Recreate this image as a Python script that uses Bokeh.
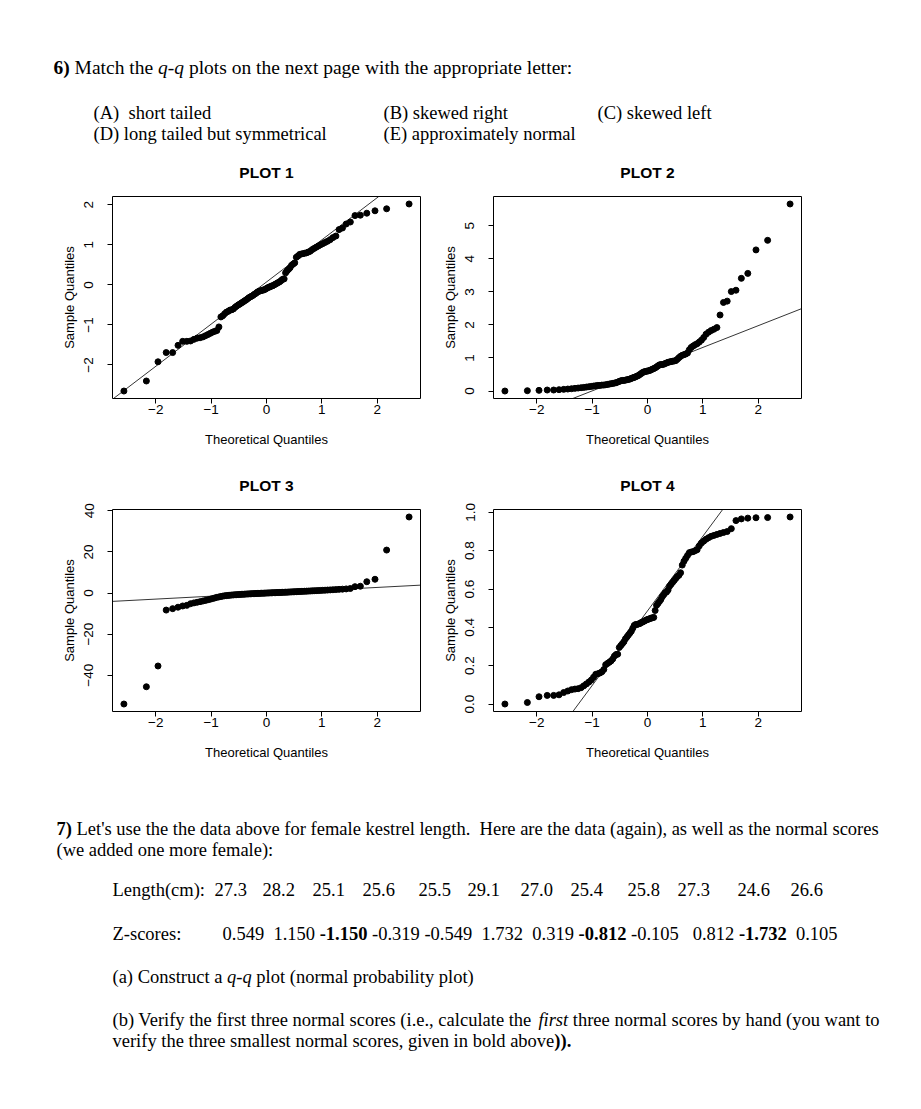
import re
from statistics import NormalDist
import numpy as np
from bokeh.plotting import figure
from bokeh.layouts import column, row
from bokeh.models import Range1d, DataRange1d, FixedTicker, Slope, PrintfTickFormatter
from bokeh.core.properties import value
from bokeh.embed import file_html
from bokeh.resources import INLINE

# ---------------- data ----------------
plot1 = [-2.65, -2.40, -1.92, -1.69, -1.69, -1.51, -1.41, -1.41, -1.40, -1.36,
         -1.33, -1.32, -1.30, -1.27, -1.24, -1.21, -1.18, -1.16, -1.14, -1.05,
         -0.80, -0.77, -0.72, -0.68, -0.66, -0.63, -0.62, -0.60, -0.56, -0.53,
         -0.50, -0.48, -0.45, -0.43, -0.40, -0.38, -0.35, -0.32, -0.30, -0.28,
         -0.26, -0.23, -0.21, -0.18, -0.16, -0.15, -0.14, -0.13, -0.12, -0.10,
         -0.08, -0.06, -0.05, -0.03, -0.02, 0.00, 0.02, 0.04, 0.06, 0.08,
         0.11, 0.14, 0.15, 0.30, 0.35, 0.39, 0.43, 0.49, 0.52, 0.55,
         0.69, 0.72, 0.76, 0.77, 0.78, 0.79, 0.80, 0.82, 0.84, 0.88,
         0.91, 0.94, 0.97, 1.00, 1.03, 1.06, 1.09, 1.13, 1.18, 1.22,
         1.38, 1.42, 1.52, 1.57, 1.73, 1.74, 1.79, 1.85, 1.90, 2.02]

plot2 = [0.00, 0.01, 0.02, 0.03, 0.03, 0.04, 0.05, 0.06, 0.07, 0.08,
         0.09, 0.10, 0.11, 0.12, 0.13, 0.14, 0.15, 0.16, 0.17, 0.17,
         0.18, 0.18, 0.19, 0.20, 0.21, 0.22, 0.23, 0.24, 0.25, 0.27,
         0.29, 0.31, 0.32, 0.32, 0.33, 0.34, 0.35, 0.36, 0.38, 0.40,
         0.41, 0.43, 0.45, 0.47, 0.50, 0.53, 0.56, 0.58, 0.59, 0.60,
         0.61, 0.62, 0.64, 0.66, 0.68, 0.70, 0.73, 0.76, 0.79, 0.80,
         0.80, 0.81, 0.83, 0.85, 0.87, 0.88, 0.89, 0.90, 0.91, 0.92,
         0.96, 1.01, 1.05, 1.08, 1.10, 1.12, 1.15, 1.25, 1.32, 1.36,
         1.40, 1.43, 1.48, 1.54, 1.62, 1.72, 1.78, 1.83, 1.87, 1.92,
         2.30, 2.68, 2.72, 3.01, 3.05, 3.41, 3.56, 4.27, 4.56, 5.66]

plot3 = [-54.0, -45.6, -35.5, -8.3, -7.6, -6.9, -6.3, -6.0, -5.2, -4.8,
         -4.5, -4.2, -3.9, -3.6, -3.3, -3.0, -2.7, -2.4, -2.1, -1.9,
         -1.7, -1.5, -1.35, -1.25, -1.15, -1.05, -0.98, -0.92, -0.85, -0.80,
         -0.75, -0.70, -0.65, -0.60, -0.55, -0.50, -0.46, -0.42, -0.38, -0.34,
         -0.30, -0.27, -0.24, -0.20, -0.17, -0.14, -0.11, -0.08, -0.05, -0.02,
         0.01, 0.04, 0.07, 0.10, 0.13, 0.16, 0.19, 0.22, 0.25, 0.28,
         0.31, 0.34, 0.37, 0.40, 0.43, 0.47, 0.51, 0.55, 0.59, 0.63,
         0.67, 0.71, 0.75, 0.79, 0.83, 0.87, 0.91, 0.95, 1.00, 1.05,
         1.10, 1.15, 1.20, 1.26, 1.32, 1.38, 1.45, 1.52, 1.60, 1.68,
         1.78, 1.88, 2.00, 2.20, 3.1, 3.3, 5.5, 6.7, 20.9, 37.0]

plot4 = [0.000, 0.008, 0.038, 0.045, 0.045, 0.048, 0.060, 0.068, 0.075, 0.078,
         0.080, 0.085, 0.095, 0.105, 0.115, 0.125, 0.140, 0.155, 0.158, 0.162,
         0.168, 0.180, 0.205, 0.212, 0.218, 0.225, 0.235, 0.250, 0.258, 0.260,
         0.295, 0.305, 0.315, 0.325, 0.340, 0.350, 0.360, 0.370, 0.380, 0.395,
         0.410, 0.415, 0.415, 0.418, 0.420, 0.425, 0.428, 0.432, 0.436, 0.440,
         0.442, 0.445, 0.448, 0.450, 0.452, 0.488, 0.515, 0.525, 0.535, 0.545,
         0.560, 0.570, 0.580, 0.585, 0.595, 0.615, 0.625, 0.635, 0.645, 0.655,
         0.665, 0.672, 0.685, 0.725, 0.745, 0.760, 0.775, 0.790, 0.793, 0.795,
         0.800, 0.805, 0.825, 0.840, 0.850, 0.860, 0.868, 0.875, 0.880, 0.885,
         0.890, 0.895, 0.900, 0.915, 0.957, 0.966, 0.970, 0.972, 0.973, 0.976]

plot_titles = ["PLOT 1", "PLOT 2", "PLOT 3", "PLOT 4"]
x_ticks = [-2, -1, 0, 1, 2]
y_ticks1 = [-2, -1, 0, 1, 2]
y_ticks2 = [0, 1, 2, 3, 4, 5]
y_ticks3 = [-40, -20, 0, 20, 40]
y_ticks4 = [0.0, 0.2, 0.4, 0.6, 0.8, 1.0]

options_row1 = ["(A)  short tailed", "(B) skewed right", "(C) skewed left"]
options_row2 = ["(D) long tailed but symmetrical", "(E) approximately normal"]

lengths = [27.3, 28.2, 25.1, 25.6, 25.5, 29.1, 27.0, 25.4, 25.8, 27.3, 24.6, 26.6]
zscores = [0.549, 1.150, -1.150, -0.319, -0.549, 1.732, 0.319, -0.812, -0.105, 0.812, -1.732, 0.105]

# ---------------- layout / style ----------------
SERIF = "Liberation Serif"
SANS = "Liberation Sans"
BODY = 18.5
PAGE_W = 920
LEFT_W, RIGHT_W = 428, 492            # widths of the two plot columns
FRAME_W = 308                          # plot frame width
LEFT_BORDERS = (112, 65)               # left border of each column's figure

TW = {" ": 250, "!": 333, "'": 180, "(": 333, ")": 333, ",": 250, "-": 333, ".": 250, ":": 278,
      "A": 722, "B": 667, "C": 667, "D": 722, "E": 611, "F": 556, "G": 722, "H": 722, "I": 333,
      "L": 611, "M": 889, "N": 722, "O": 722, "P": 556, "R": 667, "S": 556, "T": 611, "V": 722,
      "W": 944, "Z": 611,
      "a": 444, "b": 500, "c": 444, "d": 500, "e": 444, "f": 333, "g": 500, "h": 500, "i": 278,
      "j": 278, "k": 500, "l": 278, "m": 778, "n": 500, "o": 500, "p": 500, "q": 500, "r": 333,
      "s": 389, "t": 278, "u": 500, "v": 500, "w": 722, "x": 500, "y": 500, "z": 444}


def text_width(s, size):
    return sum(TW.get(c, 500) for c in s) * size / 1000.0


def put_runs(fig, x, y, runs, size=BODY):
    sp = 250 * size / 1000.0
    for txt, style in runs:
        seg = ""

        def flush(x, seg):
            core = seg.rstrip(" ")
            trail = len(seg) - len(core)
            if core:
                fig.text(x=[x], y=[y], text=[core], text_font=value(SERIF), text_font_style=style,
                         text_font_size=f"{size}px", text_baseline="alphabetic", text_align="left",
                         text_color="black")
            return x + text_width(core, size) + trail * sp

        for tok in re.findall(r" +|[^ ]+", txt):
            if tok.startswith(" "):
                if len(tok) == 1 and seg:
                    seg += tok
                else:
                    x = flush(x, seg)
                    seg = ""
                    x += len(tok) * sp
            else:
                seg += tok
        x = flush(x, seg)
    return x


def canvas(top, height):
    f = figure(width=PAGE_W, height=height, x_range=Range1d(0, PAGE_W), y_range=Range1d(top + height, top),
               output_backend="svg", toolbar_location=None, x_axis_location=None,
               y_axis_location=None, min_border=0)
    f.outline_line_color = None
    f.grid.visible = False
    return f


def plot_titles_on(fig, y, names):
    centers = [LEFT_BORDERS[0] + FRAME_W / 2, LEFT_W + LEFT_BORDERS[1] + FRAME_W / 2]
    fig.text(x=centers, y=[y, y], text=names, text_font=value(SANS), text_font_style="bold",
             text_font_size="15.5px", text_align="center", text_baseline="alphabetic", text_color="black")


def qq_plot(vals, yticks, fmt, width, height, bl, br, bt, bb):
    nd = NormalDist()
    n = len(vals)
    theo = [nd.inv_cdf((i - 0.5) / n) for i in range(1, n + 1)]
    samp = sorted(vals)
    p = figure(width=width, height=height, output_backend="svg", toolbar_location=None,
               min_border_left=bl, min_border_right=br, min_border_top=bt, min_border_bottom=bb,
               x_range=DataRange1d(range_padding=0.08), y_range=DataRange1d(range_padding=0.08),
               x_axis_label="Theoretical Quantiles", y_axis_label="Sample Quantiles")
    p.grid.visible = False
    p.outline_line_color = "black"
    p.outline_line_alpha = 1
    p.outline_line_width = 1
    p.scatter(theo, samp, size=6, marker="circle", fill_color="black", line_color="black")
    q1, q3 = np.quantile(samp, [0.25, 0.75])
    z1, z3 = nd.inv_cdf(0.25), nd.inv_cdf(0.75)
    slope = (q3 - q1) / (z3 - z1)
    p.add_layout(Slope(gradient=slope, y_intercept=q1 - slope * z1, line_color="black", line_width=0.8))
    p.xaxis.ticker = FixedTicker(ticks=x_ticks)
    p.yaxis.ticker = FixedTicker(ticks=yticks)
    if fmt:
        p.yaxis.formatter = PrintfTickFormatter(format=fmt)
    for ax in (p.xaxis[0], p.yaxis[0]):
        ax.axis_line_color = None
        ax.major_tick_out = 5
        ax.major_tick_in = 0
        ax.major_tick_line_color = "black"
        ax.minor_tick_line_color = None
        ax.major_label_text_font = SANS
        ax.major_label_text_font_size = "13.5px"
        ax.major_label_text_color = "black"
        ax.axis_label_text_font = SANS
        ax.axis_label_text_font_size = "13px"
        ax.axis_label_text_font_style = "normal"
        ax.axis_label_text_color = "black"
    p.xaxis.major_label_standoff = 1
    p.xaxis.axis_label_standoff = 15
    p.yaxis.major_label_orientation = "vertical"
    p.yaxis.major_label_standoff = 14
    p.yaxis.axis_label_standoff = 5
    return p


# header (page y 0..185) with the question and the titles of plots 1-2
header = canvas(0, 185)
put_runs(header, 53, 67, [("6)", "bold"), (" Match the ", "normal"), ("q-q", "italic"),
                          (" plots on the next page with the appropriate letter:", "normal")], size=19.5)
for xo, t in zip([93, 383, 597], options_row1):
    put_runs(header, xo, 112, [(t, "normal")])
for xo, t in zip([93, 383], options_row2):
    put_runs(header, xo, 133, [(t, "normal")])
plot_titles_on(header, 171.5, plot_titles[:2])

# row 1: page y 185..460 (frames 196..398)
p1 = qq_plot(plot1, y_ticks1, None, LEFT_W, 275, LEFT_BORDERS[0], LEFT_W - LEFT_BORDERS[0] - FRAME_W, 11, 62)
p2 = qq_plot(plot2, y_ticks2, None, RIGHT_W, 275, LEFT_BORDERS[1], RIGHT_W - LEFT_BORDERS[1] - FRAME_W, 11, 62)

# band with the titles of plots 3-4: page y 460..500
mid = canvas(460, 40)
plot_titles_on(mid, 484.5, plot_titles[2:])

# row 2: page y 500..772 (frames 509..711)
p3 = qq_plot(plot3, y_ticks3, None, LEFT_W, 272, LEFT_BORDERS[0], LEFT_W - LEFT_BORDERS[0] - FRAME_W, 9, 61)
p4 = qq_plot(plot4, y_ticks4, "%.1f", RIGHT_W, 272, LEFT_BORDERS[1], RIGHT_W - LEFT_BORDERS[1] - FRAME_W, 9, 61)

# footer (page y 772..1107)
footer = canvas(772, 335)
put_runs(footer, 56, 828, [("7)", "bold"),
                           (" Let's use the the data above for female kestrel length.  Here are the data (again), as well as the normal scores", "normal")])
put_runs(footer, 56, 849, [("(we added one more female):", "normal")])

put_runs(footer, 112, 889, [("Length(cm):", "normal")])
len_x = [214, 262, 312, 362, 418, 467, 520, 570, 627, 677, 737, 790]
for xo, v in zip(len_x, lengths):
    put_runs(footer, xo, 889, [(f"{v:.1f}", "normal")])

put_runs(footer, 112, 933, [("Z-scores:", "normal")])
z_gap_spaces = [2, 1, 1, 1, 2, 2, 1, 1, 3, 1, 2, 0]
smallest = set(sorted(range(len(zscores)), key=lambda i: zscores[i])[:3])
zx = 222
for i, v in enumerate(zscores):
    zx = put_runs(footer, zx, 933, [(f"{v:.3f}" + " " * z_gap_spaces[i], "bold" if i in smallest else "normal")])

put_runs(footer, 112, 976, [("(a) Construct a ", "normal"), ("q-q", "italic"),
                            (" plot (normal probability plot)", "normal")])
put_runs(footer, 112, 1019, [("(b) Verify the first three normal scores (i.e., calculate the ", "normal"),
                             ("first", "italic"),
                             (" three normal scores by hand (you want to", "normal")])
put_runs(footer, 112, 1040, [("verify the three smallest normal scores, given in bold above", "normal"),
                             (")).", "bold")])

layout = column(header, row(p1, p2), mid, row(p3, p4), footer)
open("out.html", "w").write(file_html(layout, INLINE, title="q-q plots"))
